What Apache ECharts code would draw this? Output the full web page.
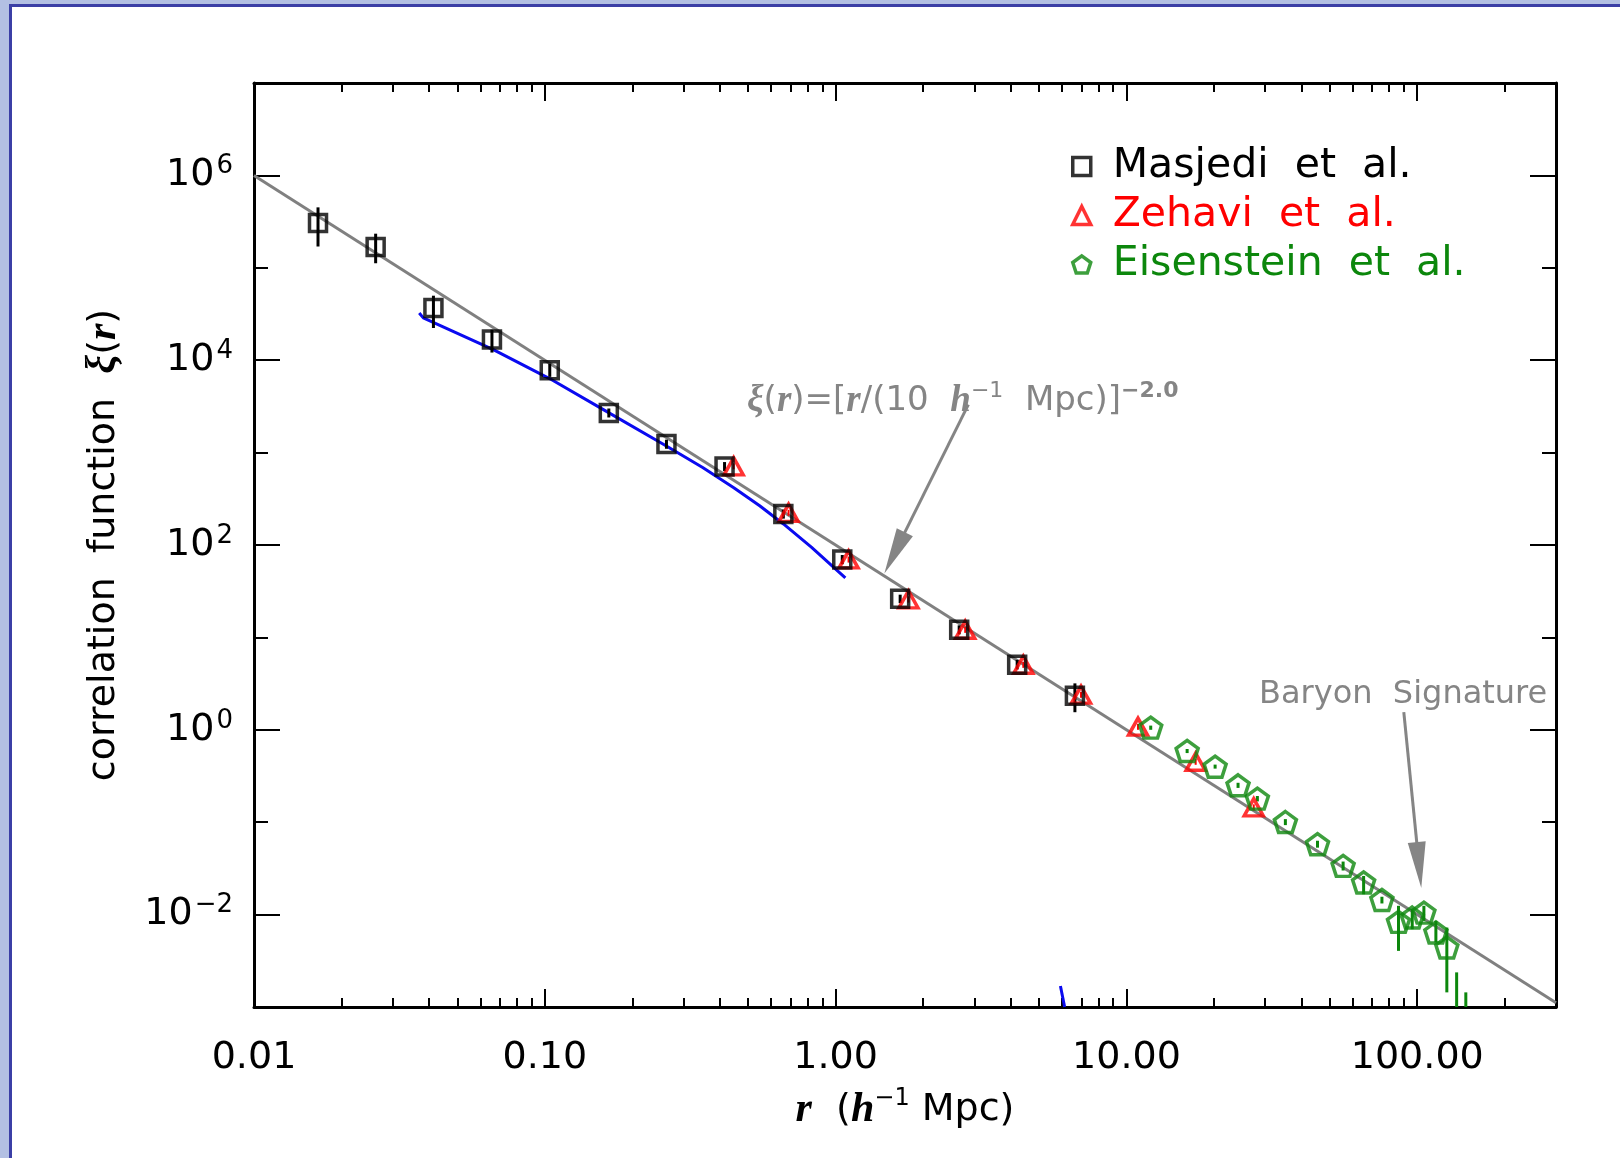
<!DOCTYPE html>
<html><head><meta charset="utf-8">
<style>
html,body{margin:0;padding:0;width:1620px;height:1158px;background:#b3c0e3;overflow:hidden}
#frame{position:absolute;left:9px;top:4px;right:0;bottom:0;background:#fff;border-left:3px solid #3b3fa6;border-top:3px solid #3b3fa6}
#chart{position:absolute;left:0;top:0;width:1620px;height:1158px}
</style>
<script src="https://cdn.jsdelivr.net/npm/echarts@6/dist/echarts.min.js"></script>
</head><body><div id="frame"></div><div id="chart"></div>
<script>
// ---- data ----
const masjediR  = [0.0166, 0.0262, 0.0414, 0.0658, 0.104, 0.166, 0.262, 0.415, 0.661, 1.054, 1.667, 2.66, 4.21, 6.65];
const masjediXi = [3.06e5, 1.68e5, 3.67e4, 1.67e4, 7.8e3, 2.69e3, 1.24e3, 706, 216, 69.8, 26.2, 12.1, 5.06, 2.34];
const masjediLo = [1.70e5, 1.12e5, 2.23e4, 1.21e4, 6.6e3, 2.4e3, 1.1e3, 630, 193, 62, 23.5, 10.8, 4.5, 1.55];
const masjediHi = [4.51e5, 2.34e5, 4.99e4, 2.14e4, 9.2e3, 3.0e3, 1.38e3, 790, 242, 78, 29, 13.5, 5.7, 3.18];

const zehaviR  = [0.446, 0.689, 1.108, 1.78, 2.79, 4.42, 6.98, 10.96, 17.3, 27.4];
const zehaviXi = [711, 223, 69.8, 25.8, 12.1, 5.06, 2.40, 1.08, 0.451, 0.145];
const zehaviLo = [660, 207, 64.5, 23.8, 11.2, 4.68, 2.22, 1.0, 0.418, 0.134];
const zehaviHi = [765, 240, 75, 27.8, 13.0, 5.45, 2.58, 1.16, 0.485, 0.156];

const eisR  = [12.12, 16.17, 20.18, 24.2, 28.2, 35.2, 45.4, 55.6, 65.4, 75.6, 86.2, 96.1, 105.4, 115.9, 126.4, 136.6, 146.9];
const eisXi = [1.056, 0.590, 0.399, 0.251, 0.180, 0.1005, 0.0578, 0.0337, 0.0223, 0.0144, 0.00835, 0.00930, 0.0105, 0.00641, 0.00441, 0.0007, 0.0006];
const eisLo = [1.0, 0.56, 0.38, 0.235, 0.168, 0.093, 0.053, 0.030, 0.0166, 0.0132, 0.00405, 0.00695, 0.00855, 0.00499, 0.00144, 0.0005, 0.0005];
const eisHi = [1.11, 0.62, 0.42, 0.267, 0.192, 0.108, 0.063, 0.0375, 0.0262, 0.0156, 0.01245, 0.01143, 0.01245, 0.00855, 0.00724, 0.00237, 0.00144];

const modelR  = [0.0370, 0.0382, 0.0665, 0.1042, 0.159, 0.2627, 0.349, 0.4465, 0.548, 0.6614, 0.825, 1.080];
const modelXi = [3.24e4, 2.87e4, 1.30e4, 6.29e3, 2.92e3, 1.17e3, 689, 417, 266, 169, 95, 44.2];
const modelFragR  = [5.93, 6.13];
const modelFragXi = [1.69e-3, 1.0e-3];

const powerR  = [0.01, 300];
const powerXi = [1e6, 1.11e-3];

const xMajor = [0.01, 0.1, 1, 10, 100];
const xMinor = [0.02,0.03,0.04,0.05,0.06,0.07,0.08,0.09, 0.2,0.3,0.4,0.5,0.6,0.7,0.8,0.9, 2,3,4,5,6,7,8,9, 20,30,40,50,60,70,80,90, 200];
const xLabels = ['0.01', '0.10', '1.00', '10.00', '100.00'];
const yMajor = [0.01, 1, 100, 1e4, 1e6];
const yMinor = [0.1, 10, 1000, 1e5];

// annotation arrows: [start, end] in data coords
const arrowFit = [[2.86, 3311], [1.595, 82.2]];
const arrowBaryon = [[89.9, 1.55], [101.4, 0.0344]];

const pentagon = 'path://M0,-1 L0.951,-0.309 L0.588,0.809 L-0.588,0.809 L-0.951,-0.309 Z';
const GRAY = '#858585';
const GREEN = '#0c870c';
const RED = '#ff0000';
const SERIF = 'Liberation Serif';

const zip = (a, b) => a.map((v, i) => [v, b[i]]);
const zip3 = (a, b, c) => a.map((v, i) => [v, b[i], c[i]]);

function errSeries(r, lo, hi, color, w) {
  return {
    type: 'custom', data: zip3(r, lo, hi), clip: true, silent: true, z: 4,
    encode: { x: 0, y: [1, 2] },
    renderItem: (params, api) => {
      const p1 = api.coord([api.value(0), api.value(1)]);
      const p2 = api.coord([api.value(0), api.value(2)]);
      return { type: 'line', shape: { x1: p1[0], y1: p1[1], x2: p2[0], y2: p2[1] }, style: { stroke: color, lineWidth: w } };
    }
  };
}

const XMIN = 0.01, XMAX = 300, YMIN = 1e-3, YMAX = 1e7;
function xAx(pos, ticks, len, main) {
  return {
    type: 'log', logBase: 10, min: XMIN, max: XMAX, position: pos,
    axisLine: { show: !!main, lineStyle: { color: '#000', width: 3 } },
    axisTick: { inside: true, length: len, customValues: ticks, lineStyle: { color: '#000', width: 2 } },
    axisLabel: main && pos === 'bottom' ? {
      customValues: xMajor, margin: 32, color: '#000', fontSize: 38, fontFamily: 'DejaVu Sans',
      formatter: v => xLabels[Math.round(Math.log10(v)) + 2]
    } : { show: false },
    splitLine: { show: false }, minorTick: { show: false }
  };
}
function yAx(pos, ticks, len, main) {
  return {
    type: 'log', logBase: 10, min: YMIN, max: YMAX, position: pos,
    axisLine: { show: !!main, lineStyle: { color: '#000', width: 3 } },
    axisTick: { inside: true, length: len, customValues: ticks, lineStyle: { color: '#000', width: 2 } },
    axisLabel: main && pos === 'left' ? {
      customValues: yMajor, margin: 21,
      formatter: v => { const e = Math.round(Math.log10(v)); return '{b|10}{s|' + (e < 0 ? '\u2212' + (-e) : String(e)) + '}'; },
      rich: {
        b: { fontSize: 38, fontFamily: 'DejaVu Sans', color: '#000', lineHeight: 44 },
        s: { fontSize: 26, fontFamily: 'DejaVu Sans', color: '#000', lineHeight: 26, verticalAlign: 'top', padding: [0, 0, 0, 2] }
      }
    } : { show: false },
    splitLine: { show: false }, minorTick: { show: false }
  };
}

const xAxes = [xAx('bottom', xMajor, 18, true), xAx('bottom', xMinor, 9, false), xAx('top', xMajor, 18, true), xAx('top', xMinor, 9, false)];
xAxes[0].name = '{i|r}{n|  (}{i|h}{s|\u22121}{n| Mpc)}';
xAxes[0].nameLocation = 'middle';
xAxes[0].nameGap = 80;
xAxes[0].nameTextStyle = { rich: {
  i: { fontSize: 42, fontFamily: SERIF, fontWeight: 'bold', fontStyle: 'italic', color: '#000', lineHeight: 46 },
  n: { fontSize: 38, fontFamily: 'DejaVu Sans', color: '#000', lineHeight: 46 },
  s: { fontSize: 24, fontFamily: 'DejaVu Sans', color: '#000', lineHeight: 24, verticalAlign: 'top' }
}};
const yAxes = [yAx('left', yMajor, 26, true), yAx('left', yMinor, 14, false), yAx('right', yMajor, 26, true), yAx('right', yMinor, 14, false)];
yAxes[0].name = '{n|correlation  function  }{i|\u03be}{n|(}{i|r}{n|)}';
yAxes[0].nameLocation = 'middle';
yAxes[0].nameGap = 127;
yAxes[0].nameTextStyle = { rich: {
  i: { fontSize: 42, fontFamily: SERIF, fontWeight: 'bold', fontStyle: 'italic', color: '#000', lineHeight: 46 },
  n: { fontSize: 38, fontFamily: 'DejaVu Sans', color: '#000', lineHeight: 46 }
}};

const hollow = c => ({ color: 'rgba(0,0,0,0)', borderColor: c, borderWidth: 3.5 });

const option = {
  animation: false,
  grid: { left: 254, top: 83, width: 1302, height: 924, containLabel: false },
  xAxis: xAxes,
  yAxis: yAxes,
  legend: {
    orient: 'vertical', left: 1071, top: 146, padding: 0, itemGap: 8,
    itemWidth: 18, itemHeight: 18,
    formatter: n => n.replace(/ /g, '  '),
    textStyle: { fontSize: 41, fontFamily: 'DejaVu Sans', lineHeight: 40, padding: [0, 0, 0, 17] },
    data: [
      { name: 'Masjedi et al.', icon: 'rect', itemStyle: hollow('#000'), textStyle: { color: '#000' } },
      { name: 'Zehavi et al.', icon: 'triangle', itemStyle: hollow(RED), textStyle: { color: RED } },
      { name: 'Eisenstein et al.', icon: pentagon, itemStyle: hollow(GREEN), textStyle: { color: GREEN } }
    ]
  },
  graphic: [
    { type: 'text', left: 747, top: 380, silent: true, style: {
      text: '{i|\u03be}{n|(}{i|r}{n|)=[}{i|r}{n|/(10  }{i|h}{s|\u22121}{n|  Mpc)]}{t|\u22122.0}',
      rich: {
        i: { fontSize: 37, fontFamily: SERIF, fontWeight: 'bold', fontStyle: 'italic', fill: GRAY, lineHeight: 42 },
        n: { fontSize: 34, fontFamily: 'DejaVu Sans', fill: GRAY, lineHeight: 42 },
        s: { fontSize: 22, fontFamily: 'DejaVu Sans', fill: GRAY, lineHeight: 22, verticalAlign: 'top' },
        t: { fontSize: 22, fontFamily: 'DejaVu Sans', fontWeight: 'bold', fill: GRAY, lineHeight: 22, verticalAlign: 'top' }
      }
    }},
    { type: 'text', left: 1259, top: 679, silent: true, style: {
      text: 'Baryon  Signature', fontSize: 32, fontFamily: 'DejaVu Sans', fill: GRAY
    }}
  ],
  series: [
    { type: 'line', name: 'power law', data: zip(powerR, powerXi), symbol: 'none', silent: true, z: 2,
      lineStyle: { color: '#808080', width: 3 },
      markLine: { silent: true, symbol: ['none', 'triangle'], symbolSize: [18, 46], animation: false,
        label: { show: false }, lineStyle: { color: GRAY, width: 3, type: 'solid' },
        itemStyle: { color: GRAY },
        data: [
          [{ coord: arrowFit[0] }, { coord: arrowFit[1] }],
          [{ coord: arrowBaryon[0] }, { coord: arrowBaryon[1] }]
        ] } },
    { type: 'line', name: 'model', data: zip(modelR, modelXi), symbol: 'none', smooth: false, silent: true, z: 3,
      lineStyle: { color: '#0a0af0', width: 3 } },
    { type: 'line', name: 'model2', data: zip(modelFragR, modelFragXi), symbol: 'none', silent: true, z: 3,
      lineStyle: { color: '#0a0af0', width: 3 } },
    errSeries(masjediR, masjediLo, masjediHi, '#000', 3),
    errSeries(zehaviR, zehaviLo, zehaviHi, RED, 2),
    errSeries(eisR, eisLo, eisHi, GREEN, 3),
    { type: 'scatter', name: 'Zehavi et al.', data: zip(zehaviR, zehaviXi), symbol: 'triangle', symbolSize: [19, 17], clip: true, z: 5,
      itemStyle: hollow(RED) },
    { type: 'scatter', name: 'Masjedi et al.', data: zip(masjediR, masjediXi), symbol: 'rect', symbolSize: 17, clip: true, z: 6,
      itemStyle: hollow('#000') },
    { type: 'scatter', name: 'Eisenstein et al.', data: zip(eisR, eisXi), symbol: pentagon, symbolSize: [22, 21], clip: true, z: 5,
      itemStyle: hollow(GREEN) }
  ]
};
const chart = echarts.init(document.getElementById('chart'), null, { renderer: 'canvas' });
chart.setOption(option);
</script>
</body></html>
